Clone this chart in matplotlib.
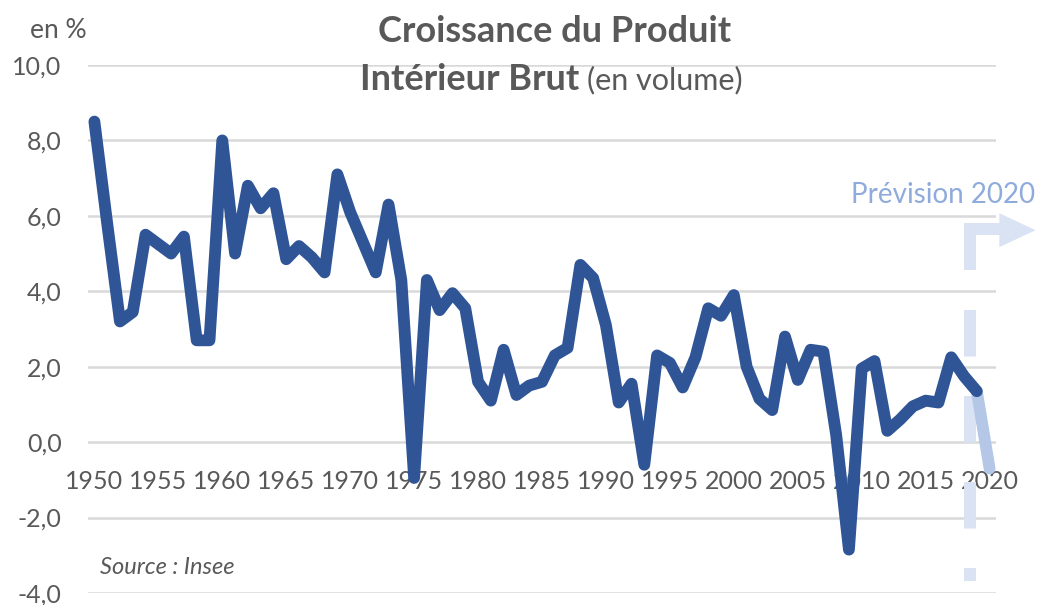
import matplotlib.pyplot as plt
import numpy as np

# croissance du PIB en volume, en %
years = np.arange(1950, 2020)
growth = [8.5, 5.8, 3.2, 3.45, 5.5, 5.25, 5.0, 5.45, 2.7, 2.7,
          8.0, 5.0, 6.8, 6.2, 6.6, 4.85, 5.2, 4.9, 4.5, 7.1,
          6.1, 5.3, 4.5, 6.3, 4.3, -0.95, 4.3, 3.5, 3.95, 3.55,
          1.6, 1.1, 2.45, 1.25, 1.5, 1.6, 2.3, 2.5, 4.7, 4.35,
          3.1, 1.05, 1.55, -0.6, 2.3, 2.1, 1.45, 2.25, 3.55, 3.35,
          3.9, 2.0, 1.15, 0.85, 2.8, 1.65, 2.45, 2.4, 0.2, -2.85,
          1.95, 2.15, 0.3, 0.6, 0.95, 1.1, 1.05, 2.25, 1.75, 1.35]
forecast_years = [2019, 2020]
forecast = [1.35, -0.7]

yticks = [-4, -2, 0, 2, 4, 6, 8, 10]
xlabels = list(range(1950, 2021, 5))

plt.rcParams['font.family'] = ['Lato', 'DejaVu Sans']
grey = '#595959'

fig = plt.figure(figsize=(10.38, 6.05), dpi=100)
ax = fig.add_axes([88/1038, 1-593/605, (996-88)/1038, (593-65)/605])

for v in yticks:
    ax.axhline(v, color='#d9d9d9', lw=1.8, zorder=1)

ax.plot(years, growth, color='#2f5597', lw=8.5, solid_joinstyle='round',
        solid_capstyle='round', zorder=4)
ax.plot(forecast_years, forecast, color='#b4c7e7', lw=8.5,
        solid_capstyle='round', zorder=3)

ax.set_xlim(1949.5, 2020.5)
ax.set_ylim(-4, 10)
ax.set_xticks([])
ax.set_yticks(yticks)
ax.set_yticklabels([('%.1f' % v).replace('.', ',') for v in yticks],
                   fontsize=18, color=grey)
ax.tick_params(axis='y', length=0, pad=19)
for s in ax.spines.values():
    s.set_visible(False)

# etiquettes des annees sur l'axe du zero
for yr in xlabels:
    ax.text(yr, -1.05, str(yr), ha='center', va='center', fontsize=18,
            color=grey, zorder=2)

# trait vertical pointille + fleche coudee "prevision"
light = '#dae3f3'
xv = 2018.47
ax.plot([xv, xv], [3.5, -3.68], color=light, lw=8.6,
        dashes=(3.9, 3.3), dash_capstyle='butt', zorder=2.5, clip_on=False)
ax.plot([xv, xv, 2020.8], [4.56, 5.64, 5.64], color=light, lw=8.6,
        solid_joinstyle='miter', solid_capstyle='butt', zorder=2.5,
        clip_on=False)
ax.fill([2020.76, 2020.76, 2023.6], [6.07, 5.17, 5.62], color=light,
        zorder=2.5, clip_on=False, lw=0)

fig.text(1035/1038, 1-195/605, 'Prévision 2020', ha='right', va='center',
         fontsize=20, color='#8faadc')

fig.text(555/1038, 1-32/605, 'Croissance du Produit', ha='center',
         va='center', fontsize=26, fontweight='bold', color=grey)
fig.text(579/1038, 1-80/605, 'Intérieur Brut', ha='right', va='center',
         fontsize=26, fontweight='bold', color=grey)
fig.text(587/1038, 1-80/605, '(en volume)', ha='left', va='center',
         fontsize=22, color=grey)
fig.text(58/1038, 1-30/605, 'en %', ha='center', va='center',
         fontsize=19, color=grey)
fig.text(100/1038, 1-568/605, 'Source : Insee', ha='left', va='center',
         fontsize=17, style='italic', color=grey)

fig.savefig('out.png', dpi=100)
